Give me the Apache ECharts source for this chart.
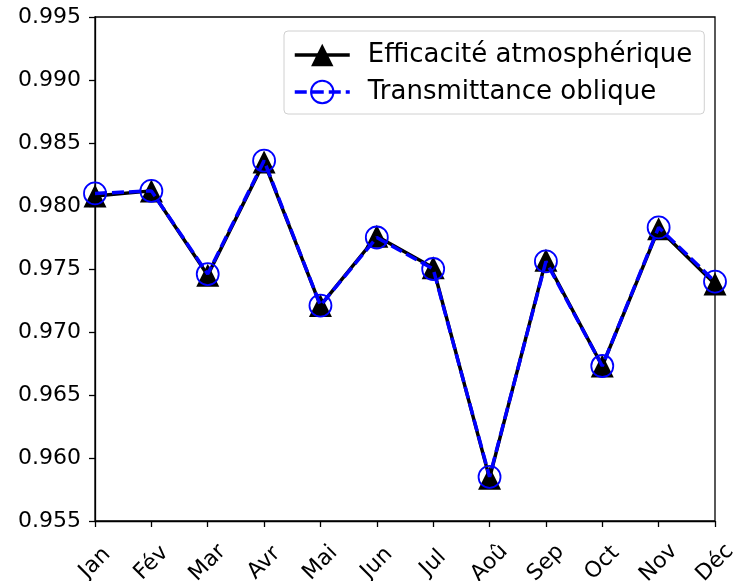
<!DOCTYPE html>
<html>
<head>
<meta charset="utf-8">
<script src="https://cdn.jsdelivr.net/npm/echarts@6/dist/echarts.min.js"></script>
<style>
html,body{margin:0;padding:0;background:#fff;}
#chart{width:737px;height:581px;}
</style>
</head>
<body>
<div id="chart"></div>
<script>
const months = ['Jan','Fév','Mar','Avr','Mai','Jun','Jul','Aoû','Sep','Oct','Nov','Déc'];
const efficacite = [0.9808, 0.9812, 0.9745, 0.9835, 0.9721, 0.9776, 0.9751, 0.9584, 0.9757, 0.9673, 0.9782, 0.9738];
const transmittance = [0.9810, 0.9812, 0.9746, 0.9836, 0.9721, 0.9775, 0.9750, 0.9585, 0.9756, 0.9673, 0.9783, 0.9740];
const yMin = 0.955, yMax = 0.995, yStep = 0.005;

const font = 'DejaVu Sans';
const chart = echarts.init(document.getElementById('chart'), null, {renderer:'canvas'});
chart.setOption({
  animation: false,
  backgroundColor: '#fff',
  grid: {left: 95, right: 22, top: 17, bottom: 60, show: true, borderColor: '#000', borderWidth: 1.3, backgroundColor: 'transparent', outerBoundsMode: 'none', containLabel: false},
  legend: {
    left: 284, top: 31, orient: 'vertical',
    padding: [11, 12, 9, 9],
    itemGap: 11, itemWidth: 55, itemHeight: 28,
    backgroundColor: '#fff',
    borderColor: '#d0d0d0', borderWidth: 1, borderRadius: 4,
    lineStyle: {width: 3.5},
    textStyle: {fontFamily: font, fontSize: 26, color: '#000', padding: [0,0,0,13]},
    data: ['Efficacité atmosphérique', 'Transmittance oblique']
  },
  xAxis: {
    type: 'category', data: months, boundaryGap: false,
    axisLine: {lineStyle: {color: '#000', width: 1.3}},
    axisTick: {inside: false, length: 6, lineStyle: {color: '#000', width: 1.3}, alignWithLabel: true},
    axisLabel: {rotate: 45, align: 'center', verticalAlign: 'middle', margin: 42, fontFamily: font, fontSize: 22, color: '#000', interval: 0},
    splitLine: {show: false}
  },
  yAxis: {
    type: 'value', min: yMin, max: yMax, interval: yStep,
    axisLine: {show: true, lineStyle: {color: '#000', width: 1.3}},
    axisTick: {show: true, length: 6, lineStyle: {color: '#000', width: 1.3}},
    axisLabel: {margin: 14, fontFamily: font, fontSize: 22, color: '#000', formatter: v => v.toFixed(3)},
    splitLine: {show: false}
  },
  series: [
    {
      name: 'Efficacité atmosphérique', type: 'line', data: efficacite,
      symbol: 'triangle', symbolSize: 23,
      lineStyle: {color: '#000', width: 3.5},
      itemStyle: {color: '#000', borderWidth: 0},
      z: 2
    },
    {
      name: 'Transmittance oblique', type: 'line', data: transmittance,
      symbol: 'circle', symbolSize: 22,
      lineStyle: {color: '#0000ff', width: 3.5, type: [12, 5]},
      itemStyle: {color: 'rgba(0,0,0,0)', borderColor: '#0000ff', borderWidth: 1.8},
      z: 3
    }
  ]
});
</script>
</body>
</html>
